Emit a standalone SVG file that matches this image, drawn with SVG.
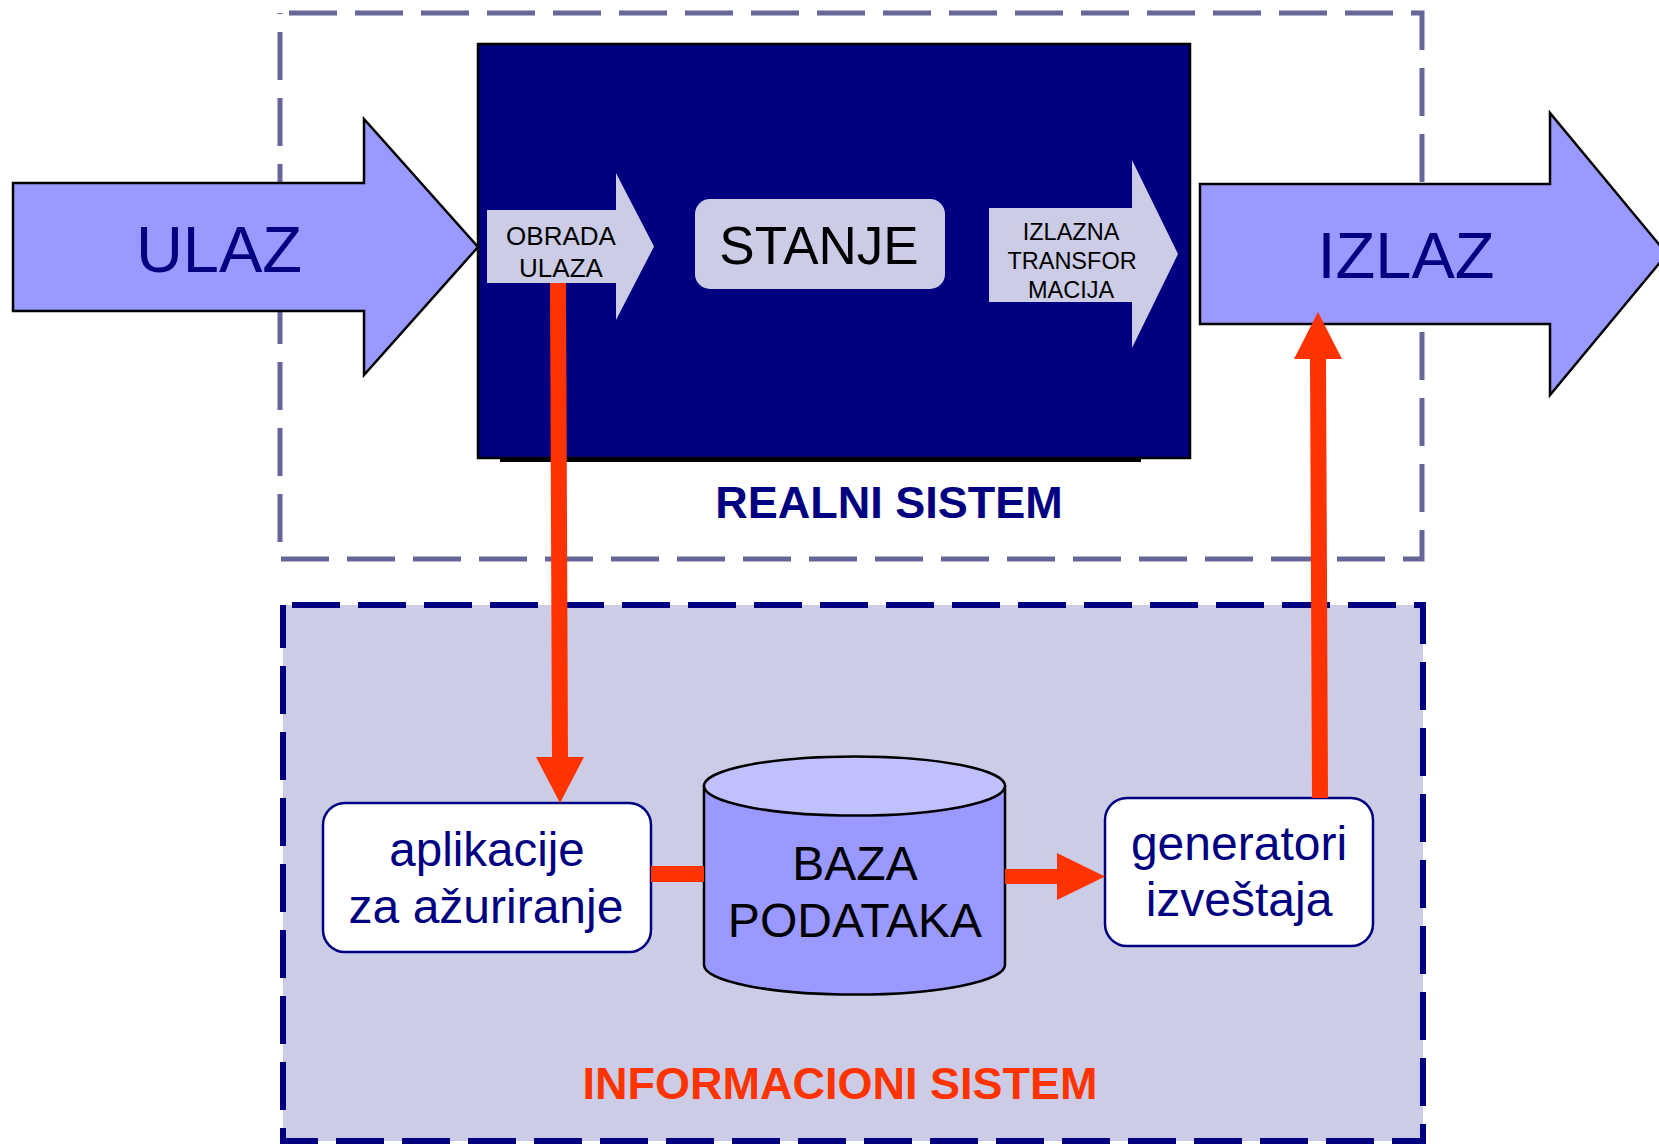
<svg xmlns="http://www.w3.org/2000/svg" width="1659" height="1145" viewBox="0 0 1659 1145">
<defs>
<style>
.t{font-family:"Liberation Sans",Arial,sans-serif;text-anchor:middle}
.big{fill:#9999FF;stroke:#000;stroke-width:2.5}
.lav{fill:#CCCCE6}
.box{fill:#fff;stroke:#000080;stroke-width:2.5}
.or{fill:#FF3300}
</style>
</defs>
<rect width="1659" height="1145" fill="#fff"/>
<g id="realni-sistem">
<rect x="280" y="13" width="1142" height="546" fill="none" stroke="#666699" stroke-width="5" stroke-dasharray="48 18" stroke-dashoffset="57"/>
<rect x="500" y="455" width="641" height="7" fill="#000"/>
<rect x="478" y="44" width="712" height="414" fill="#000080" stroke="#000" stroke-width="2.5"/>
<text class="t" x="889" y="518" font-size="45" font-weight="bold" fill="#000080">REALNI SISTEM</text>
</g>
<g id="informacioni-sistem">
<rect x="283" y="605" width="1140" height="536" fill="#CCCCE6" stroke="#000080" stroke-width="6" stroke-dasharray="48 18" stroke-dashoffset="57"/>
<text class="t" x="840" y="1099" font-size="45" font-weight="bold" fill="#FF3300">INFORMACIONI SISTEM</text>
</g>
<g id="ulaz">
<polygon class="big" points="13,183 364,183 364,119 478,247 364,375 364,311 13,311"/>
<text class="t" x="219" y="272" font-size="65" fill="#000080">ULAZ</text>
</g>
<g id="izlaz">
<polygon class="big" points="1200,184 1550,184 1550,113 1667,254 1550,395 1550,324 1200,324"/>
<text class="t" x="1406" y="278" font-size="65" fill="#000080">IZLAZ</text>
</g>
<g id="obrada-ulaza">
<polygon class="lav" points="487,210 616,210 616,173 654,246.5 616,320 616,283 487,283"/>
<text class="t" x="561" y="245" font-size="26" fill="#000">OBRADA</text>
<text class="t" x="561" y="277" font-size="26" fill="#000">ULAZA</text>
</g>
<g id="stanje">
<rect class="lav" x="695" y="199" width="250" height="90" rx="15"/>
<text class="t" x="819" y="264" font-size="53" fill="#000">STANJE</text>
</g>
<g id="izlazna-transformacija">
<polygon class="lav" points="989,208 1132,208 1132,160 1178,254 1132,348 1132,302 989,302"/>
<text class="t" x="1071" y="240" font-size="23.5" fill="#000">IZLAZNA</text>
<text class="t" x="1072" y="269" font-size="23.5" fill="#000">TRANSFOR</text>
<text class="t" x="1071" y="298" font-size="23.5" fill="#000">MACIJA</text>
</g>
<g id="aplikacije">
<rect class="box" x="323" y="803" width="328" height="149" rx="22"/>
<text class="t" x="487" y="866" font-size="47.5" fill="#000080">aplikacije</text>
<text class="t" x="486" y="923" font-size="48" fill="#000080">za ažuriranje</text>
</g>
<g id="baza-podataka">
<path d="M704,786 V965 A150.5,29.6 0 0 0 1005,965 V786 Z" fill="#9999FF" stroke="#000" stroke-width="2.5"/>
<ellipse cx="854.5" cy="786" rx="150.5" ry="29.6" fill="#C0C0FF" stroke="#000" stroke-width="2.5"/>
<text class="t" x="855" y="880" font-size="48" fill="#000">BAZA</text>
<text class="t" x="855" y="937" font-size="48" fill="#000">PODATAKA</text>
</g>
<g id="generatori">
<rect class="box" x="1105" y="798" width="268" height="148" rx="22"/>
<text class="t" x="1239" y="860" font-size="48" fill="#000080">generatori</text>
<text class="t" x="1239" y="916" font-size="48" fill="#000080">izveštaja</text>
</g>
<g id="connectors">
<polygon class="or" points="550,283 566,283 568,758 552,758"/>
<polygon class="or" points="536,757 584,757 560,803"/>
<polygon class="or" points="1312,798 1328,798 1326,358 1310,358"/>
<polygon class="or" points="1294,359 1342,359 1318,312"/>
<rect class="or" x="651" y="866" width="53" height="16"/>
<rect class="or" x="1005" y="869" width="53" height="15"/>
<polygon class="or" points="1057,853 1057,900 1105,876.5"/>
</g>
</svg>
